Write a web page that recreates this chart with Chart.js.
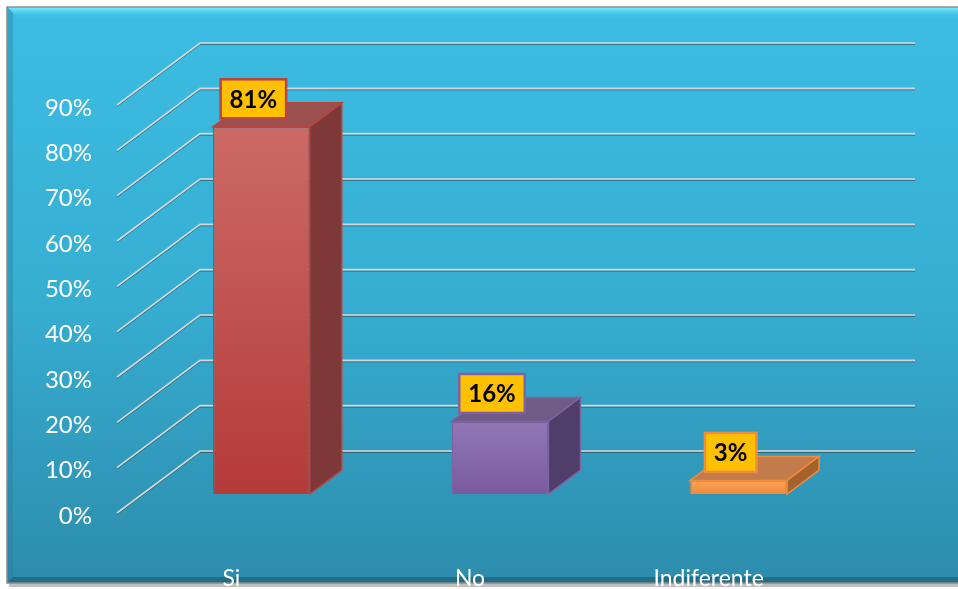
<!DOCTYPE html>
<html lang="es">
<head>
<meta charset="utf-8">
<title>Gráfico</title>
<script src="https://cdn.jsdelivr.net/npm/chart.js"></script>
<style>
	html, body {margin:0; padding:0; background:#fff;}
	canvas {display:block;}
</style>
</head>
<body>
<canvas id="grafico" width="958" height="589"></canvas>
<script>
	// datos
	const categorias = ["Si", "No", "Indiferente"];
	const valores = [81, 16, 3];
	const etiquetas = ["81%", "16%", "3%"];
	const ticksY = [0, 10, 20, 30, 40, 50, 60, 70, 80, 90];

	// colores de cada barra: frente (arriba/abajo), borde, tapa, lado
	const colFrenteA = ["#cc6a66", "#9078b4", "#fba45c"];
	const colFrenteB = ["#b43a38", "#7a5a9e", "#f28a38"];
	const colBorde = ["#b9443f", "#7e62a3", "#f08c3c"];
	const colTapa = ["#9c504e", "#6f5c86", "#c27c4c"];
	const colLado = ["#7e3838", "#4f3d6a", "#a6622c"];

	const fuente = "Lato, 'Open Sans', sans-serif";
	const PROF_X = 32, PROF_Y = 24;

	function gradFrente(c) {
		const chart = c.chart;
		const area = chart.chartArea;
		if (!area) return colFrenteB[c.dataIndex];
		const y = chart.scales.y;
		const top = y.getPixelForValue(valores[c.dataIndex]);
		const g = chart.ctx.createLinearGradient(0, top, 0, y.getPixelForValue(0));
		g.addColorStop(0, colFrenteA[c.dataIndex]);
		g.addColorStop(1, colFrenteB[c.dataIndex]);
		return g;
	}

	const fondo = {
		id: "fondo",
		beforeDraw(chart) {
			const ctx = chart.ctx;
			const W = chart.width;
			ctx.save();
			ctx.fillStyle = "#fff";
			ctx.fillRect(0, 0, W, chart.height);
			const x0 = 7, y0 = 7, x1 = W + 2, y1 = 583;
			// sombra
			ctx.fillStyle = "rgba(0,0,0,0.25)";
			ctx.fillRect(x0 + 2, y0 + 2, x1 - x0, y1 - y0 + 2);
			const g = ctx.createLinearGradient(0, y0, 0, y1);
			g.addColorStop(0, "#3cbde3");
			g.addColorStop(0.5, "#36aed2");
			g.addColorStop(1, "#2d8cac");
			ctx.fillStyle = g;
			ctx.fillRect(x0, y0, x1 - x0, y1 - y0);
			// bisel superior
			const gt = ctx.createLinearGradient(0, y0, 0, y0 + 12);
			gt.addColorStop(0, "#7df2ff");
			gt.addColorStop(1, "rgba(60,189,227,0)");
			ctx.fillStyle = gt;
			ctx.beginPath();
			ctx.moveTo(x0, y0); ctx.lineTo(x1, y0); ctx.lineTo(x1, y0 + 12); ctx.lineTo(x0 + 12, y0 + 12);
			ctx.closePath(); ctx.fill();
			// bisel izquierdo
			ctx.fillStyle = "rgba(40,120,150,0.35)";
			ctx.beginPath();
			ctx.moveTo(x0, y0); ctx.lineTo(x0 + 6, y0 + 6); ctx.lineTo(x0 + 6, y1 - 6); ctx.lineTo(x0, y1);
			ctx.closePath(); ctx.fill();
			// bisel inferior
			ctx.fillStyle = "rgba(20,70,90,0.45)";
			ctx.beginPath();
			ctx.moveTo(x0, y1); ctx.lineTo(x0 + 6, y1 - 6); ctx.lineTo(x1, y1 - 6); ctx.lineTo(x1, y1);
			ctx.closePath(); ctx.fill();
			ctx.strokeStyle = "#8a8a8a";
			ctx.lineWidth = 1.5;
			ctx.strokeRect(x0, y0, x1 - x0, y1 - y0);
			ctx.restore();
		}
	};

	// rejilla 3D: diagonal delante + linea en la pared del fondo
	const rejilla = {
		id: "rejilla",
		beforeDatasetsDraw(chart) {
			const ctx = chart.ctx;
			const y = chart.scales.y;
			ctx.save();
			y.ticks.forEach(t => {
				const py = y.getPixelForValue(t.value);
				const fy = py + 19, by = py - 43;
				const pts = [[117, fy], [200, by], [915, by]];
				// sombra
				ctx.strokeStyle = "rgba(40,60,70,0.55)";
				ctx.lineWidth = 1;
				ctx.beginPath();
				ctx.moveTo(pts[0][0], pts[0][1] + 1.5);
				ctx.lineTo(pts[1][0], pts[1][1] + 1.5);
				ctx.lineTo(pts[2][0], pts[2][1] + 1.5);
				ctx.stroke();
				ctx.strokeStyle = "#d6d6d6";
				ctx.lineWidth = 1.6;
				ctx.beginPath();
				ctx.moveTo(pts[0][0], pts[0][1]);
				ctx.lineTo(pts[1][0], pts[1][1]);
				ctx.lineTo(pts[2][0], pts[2][1]);
				ctx.stroke();
			});
			ctx.restore();
		}
	};

	// caras de arriba y del lado + etiquetas amarillas
	const caras3d = {
		id: "caras3d",
		afterDatasetsDraw(chart) {
			const ctx = chart.ctx;
			const meta = chart.getDatasetMeta(0);
			ctx.save();
			meta.data.forEach((bar, i) => {
				const p = bar.getProps(["x", "y", "base", "width"], true);
				const xl = p.x - p.width / 2, xr = p.x + p.width / 2;
				ctx.lineWidth = 1.5;
				ctx.strokeStyle = colBorde[i];
				// tapa
				ctx.fillStyle = colTapa[i];
				ctx.beginPath();
				ctx.moveTo(xl, p.y);
				ctx.lineTo(xl + PROF_X, p.y - PROF_Y);
				ctx.lineTo(xr + PROF_X, p.y - PROF_Y);
				ctx.lineTo(xr, p.y);
				ctx.closePath(); ctx.fill(); ctx.stroke();
				// lado
				ctx.fillStyle = colLado[i];
				ctx.beginPath();
				ctx.moveTo(xr, p.y);
				ctx.lineTo(xr + PROF_X, p.y - PROF_Y);
				ctx.lineTo(xr + PROF_X, p.base - PROF_Y);
				ctx.lineTo(xr, p.base);
				ctx.closePath(); ctx.fill(); ctx.stroke();
			});
			// etiquetas
			ctx.font = "bold 24px " + fuente;
			ctx.textAlign = "center";
			ctx.textBaseline = "middle";
			meta.data.forEach((bar, i) => {
				const p = bar.getProps(["x", "y"], true);
				const cx = p.x - 8, cy = p.y - 28;
				const w = ctx.measureText(etiquetas[i]).width + 18, h = 39;
				ctx.fillStyle = "#ffc000";
				ctx.fillRect(cx - w / 2, cy - h / 2, w, h);
				ctx.strokeStyle = colBorde[i];
				ctx.lineWidth = 2.5;
				ctx.strokeRect(cx - w / 2, cy - h / 2, w, h);
				ctx.fillStyle = "#000";
				ctx.fillText(etiquetas[i], cx, cy + 1);
			});
			ctx.restore();
		}
	};

	new Chart(document.getElementById("grafico"), {
		type: "bar",
		data: {
			labels: categorias,
			datasets: [{
				data: valores,
				backgroundColor: gradFrente,
				borderColor: colBorde,
				borderWidth: 1.5,
				barPercentage: 0.406,
				categoryPercentage: 1
			}]
		},
		options: {
			responsive: false,
			devicePixelRatio: 1,
			animation: false,
			layout: {padding: {top: 86, right: 100, left: 0, bottom: 0}},
			plugins: {
				legend: {display: false},
				tooltip: {enabled: false}
			},
			scales: {
				y: {
					min: 0,
					max: 90,
					afterBuildTicks(s) { s.ticks = ticksY.map(v => ({value: v})); },
					afterFit(s) { s.width = 142; },
					grid: {display: false, drawTicks: false},
					border: {display: false},
					ticks: {
						padding: 50,
						labelOffset: 22,
						color: "#ffffff",
						font: {family: fuente, size: 24},
						callback: v => v + "%"
					}
				},
				x: {
					afterFit(s) { s.height = 95; },
					grid: {display: false, drawTicks: false},
					border: {display: false},
					ticks: {
						padding: 71,
						labelOffset: -30,
						color: "#ffffff",
						font: {family: fuente, size: 23}
					}
				}
			}
		},
		plugins: [fondo, rejilla, caras3d]
	});
</script>
</body>
</html>
